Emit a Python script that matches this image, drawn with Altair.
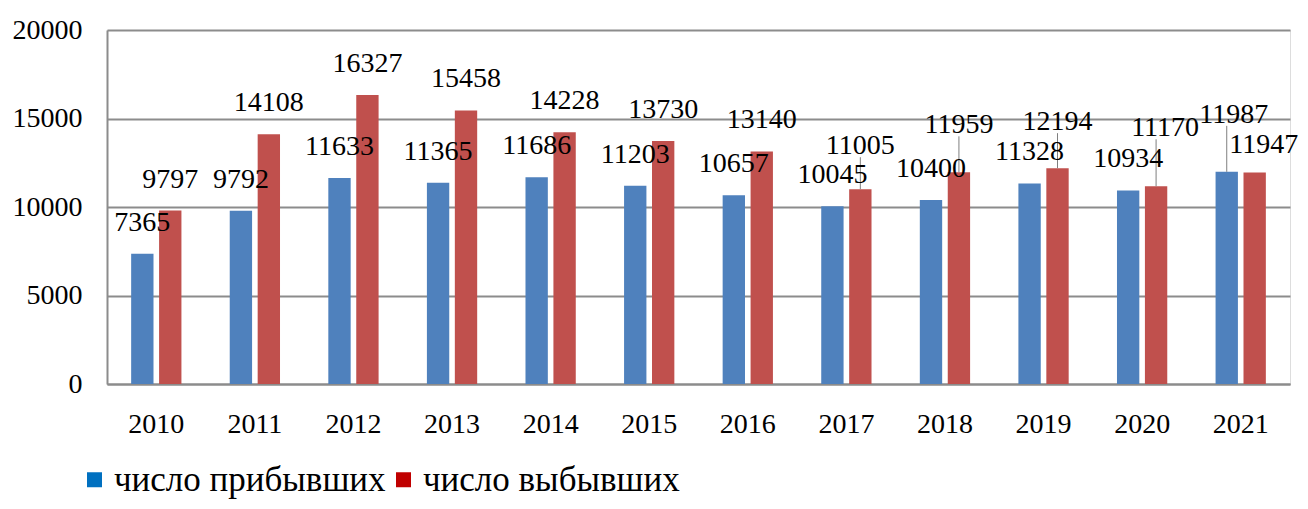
import altair as alt
import pandas as pd

years = ["2010", "2011", "2012", "2013", "2014", "2015",
         "2016", "2017", "2018", "2019", "2020", "2021"]
arrived = [7365, 9792, 11633, 11365, 11686, 11203, 10657, 10045, 10400, 11328, 10934, 11987]
departed = [9797, 14108, 16327, 15458, 14228, 13730, 13140, 11005, 11959, 12194, 11170, 11947]
series_names = ["число прибывших", "число выбывших"]

bar_colors = ["#4F81BD", "#C0504D"]
legend_colors = ["#0070C0", "#C00000"]

# label placement (pixels): default lift above the bar top, plus nudges
DEFAULT_LIFT = 31
NUDGES = {
    ("2017", "число выбывших"): (0, 43),
    ("2018", "число выбывших"): (0, 47),
    ("2019", "число выбывших"): (0, 46),
    ("2020", "число выбывших"): (9, 58),
    ("2021", "число прибывших"): (7, 57),
    ("2021", "число выбывших"): (9, 28),
}
LEADERS = [("2017", "число выбывших"), ("2018", "число выбывших"),
           ("2019", "число выбывших"), ("2020", "число выбывших"),
           ("2021", "число прибывших")]

W, H = 1183, 354
YMAX = 20000
U = YMAX / H  # data units per pixel

rows = []
for y, a, d in zip(years, arrived, departed):
    for s, v in zip(series_names, (a, d)):
        dx, lift = NUDGES.get((y, s), (0, DEFAULT_LIFT))
        rows.append({
            "year": y, "series": s, "value": v,
            "label_y": v + lift * U,
            "dx": dx,
            "leader": (y, s) in LEADERS,
            "leader_top": v + (lift - 11) * U,
        })
df = pd.DataFrame(rows)

font = "Liberation Serif"
grid_col = "#8c8c8c"

x_enc = alt.X("year:N", sort=years,
              scale=alt.Scale(paddingInner=0.49, paddingOuter=0.245),
              axis=alt.Axis(title=None, labelAngle=0, ticks=False, labelPadding=26,
                            labelFont=font, labelFontSize=28, labelColor="#000000",
                            domainColor=grid_col, domainWidth=2, grid=False))
xo_enc = alt.XOffset("series:N", sort=series_names,
                     scale=alt.Scale(paddingInner=0.2, paddingOuter=0))
y_scale = alt.Scale(domain=[0, YMAX], nice=False)

base = alt.Chart(df)

bars = base.mark_bar(strokeWidth=0).encode(
    x=x_enc,
    xOffset=xo_enc,
    y=alt.Y("value:Q", scale=y_scale,
            axis=alt.Axis(title=None, values=[0, 5000, 10000, 15000, 20000],
                          format="d", ticks=False, labelPadding=25, labelFont=font,
                          labelFontSize=28, labelColor="#000000",
                          gridColor=grid_col, gridWidth=2,
                          domainColor=grid_col, domainWidth=2)),
    color=alt.Color("series:N", sort=series_names,
                    scale=alt.Scale(domain=series_names, range=bar_colors),
                    legend=None),
)

legend_layer = base.mark_bar(strokeWidth=0).encode(
    x=alt.X("year:N", sort=years),
    xOffset=xo_enc,
    y=alt.Y("value:Q", scale=y_scale),
    y2="value:Q",
    color=alt.Color("series:N", sort=series_names,
                    scale=alt.Scale(domain=series_names, range=legend_colors),
                    legend=alt.Legend(title=None, orient="none", legendX=-30, legendY=432,
                                      direction="horizontal", symbolType="square",
                                      symbolSize=225, symbolStrokeWidth=0,
                                      labelFont=font, labelFontSize=35,
                                      labelColor="#000000", labelLimit=0,
                                      labelOffset=2, columnPadding=0)),
)

leaders = base.transform_filter("datum.leader").mark_rule(
    color="#7f7f7f", strokeWidth=1).encode(
    x=alt.X("year:N", sort=years),
    xOffset=xo_enc,
    y=alt.Y("value:Q", scale=y_scale),
    y2="leader_top:Q",
)

label_layers = []
for dxv in sorted(df["dx"].unique()):
    label_layers.append(
        base.transform_filter(f"datum.dx == {int(dxv)}").mark_text(
            font=font, fontSize=28, color="#000000", baseline="middle",
            align="center", dx=int(dxv)).encode(
            x=alt.X("year:N", sort=years),
            xOffset=xo_enc,
            y=alt.Y("label_y:Q", scale=y_scale),
            text=alt.Text("value:Q", format="d"),
        )
    )

chart = alt.layer(bars, legend_layer, leaders, *label_layers).resolve_scale(
    color="independent"
).properties(
    width=W, height=H,
    autosize=alt.AutoSizeParams(type="none"),
    padding={"left": 99, "top": 22, "right": 10, "bottom": 117},
    background="#ffffff",
).configure_view(strokeWidth=0).configure_legend(
    labelFont=font, labelFontSize=35, labelColor="#000000"
).configure(font=font)

chart.save("out.html", embed_options={"renderer": "svg", "actions": False})
